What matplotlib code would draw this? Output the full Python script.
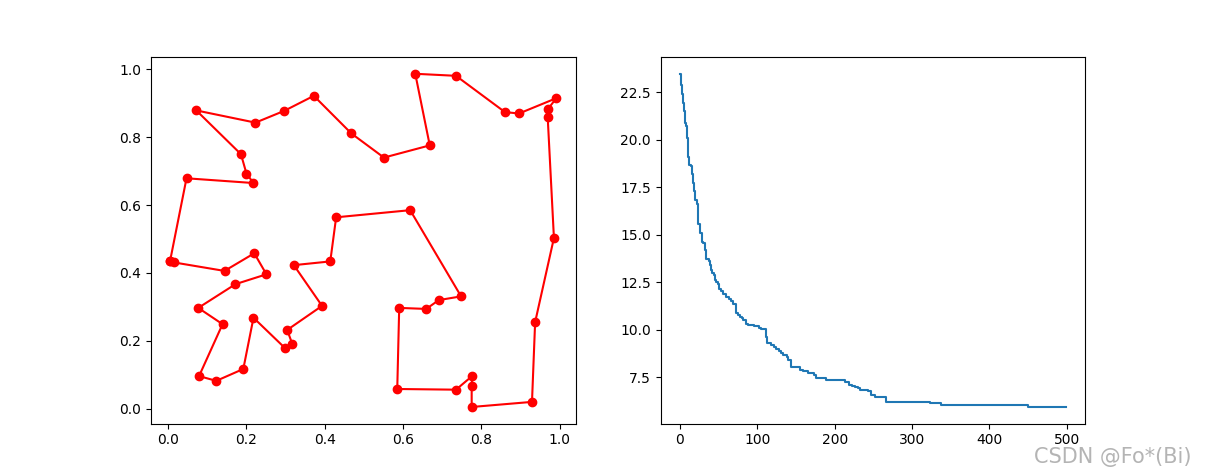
import matplotlib
matplotlib.use("Agg")
import matplotlib.pyplot as plt

# Route of cities (visiting order), closed loop
route_x = [0.005, 0.015, 0.144, 0.220, 0.251, 0.172, 0.077, 0.139, 0.079, 0.123,
           0.192, 0.218, 0.299, 0.317, 0.304, 0.393, 0.321, 0.414, 0.429, 0.618,
           0.748, 0.691, 0.659, 0.590, 0.585, 0.735, 0.776, 0.775, 0.775, 0.929,
           0.937, 0.985, 0.969, 0.969, 0.991, 0.896, 0.860, 0.735, 0.631, 0.668,
           0.551, 0.468, 0.372, 0.297, 0.223, 0.072, 0.186, 0.200, 0.218, 0.047]
route_y = [0.435, 0.431, 0.406, 0.458, 0.396, 0.367, 0.297, 0.249, 0.096, 0.082,
           0.117, 0.268, 0.178, 0.191, 0.232, 0.303, 0.423, 0.434, 0.564, 0.585,
           0.331, 0.320, 0.294, 0.297, 0.058, 0.056, 0.096, 0.066, 0.005, 0.020,
           0.255, 0.503, 0.861, 0.882, 0.915, 0.870, 0.874, 0.981, 0.987, 0.776,
           0.740, 0.811, 0.922, 0.878, 0.843, 0.879, 0.750, 0.693, 0.665, 0.679]

# Best distance per iteration (step change points)
iters = [0, 2, 3, 4, 5, 6, 7, 8, 9, 10, 11, 12, 14, 16, 17, 18, 20, 22, 23, 24,
         26, 28, 30, 33, 34, 37, 39, 40, 42, 44, 45, 47, 49, 50, 53, 56, 60, 63,
         66, 69, 73, 75, 78, 80, 82, 86, 88, 96, 102, 105, 111, 112, 118, 121,
         124, 128, 131, 133, 138, 140, 143, 155, 159, 166, 173, 176, 189, 196,
         213, 218, 222, 226, 230, 233, 238, 243, 247, 252, 266, 278, 323, 338,
         403, 450, 499]
best = [23.47, 22.9, 22.4, 21.95, 21.5, 21.03, 20.9, 20.73, 20.1, 19.56, 19.1,
        18.69, 18.6, 18.2, 17.7, 17.32, 16.83, 16.62, 16.1, 15.58, 15.1, 14.61,
        14.55, 14.2, 13.74, 13.6, 13.4, 13.13, 13.0, 12.9, 12.6, 12.5, 12.4,
        12.17, 12.05, 11.9, 11.75, 11.64, 11.5, 11.38, 10.9, 10.77, 10.65, 10.6,
        10.54, 10.33, 10.24, 10.2, 10.1, 10.02, 9.6, 9.28, 9.2, 9.1, 9.0, 8.9,
        8.8, 8.67, 8.55, 8.41, 8.02, 7.9, 7.83, 7.75, 7.62, 7.48, 7.38, 7.35,
        7.25, 7.1, 7.04, 6.98, 6.92, 6.85, 6.83, 6.8, 6.57, 6.48, 6.22, 6.19,
        6.14, 6.05, 6.02, 5.94, 5.94]

fig, (ax1, ax2) = plt.subplots(1, 2, figsize=(12.06, 4.76), dpi=100)

ax1.plot(route_x + route_x[:1], route_y + route_y[:1], 'ro-')
ax2.plot(iters, best, drawstyle='steps-post')

fig.text(0.988, 0.027, "CSDN @Fo*(Bi)", ha='right', va='baseline',
         fontsize=15, color='#b4b4b4')

fig.savefig("out.png", dpi=100)
